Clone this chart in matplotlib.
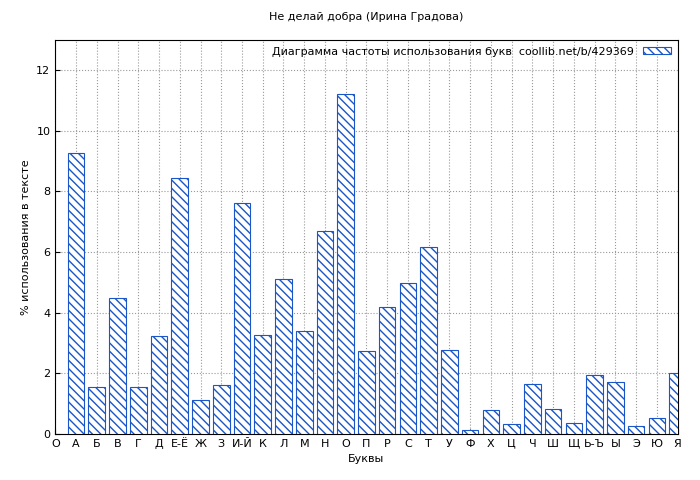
import matplotlib.pyplot as plt

letters = ["А", "Б", "В", "Г", "Д", "Е-Ё", "Ж", "З", "И-Й", "К", "Л", "М", "Н", "О", "П",
           "Р", "С", "Т", "У", "Ф", "Х", "Ц", "Ч", "Ш", "Щ", "Ь-Ъ", "Ы", "Э", "Ю", "Я"]
freq = [9.28, 1.55, 4.47, 1.55, 3.22, 8.45, 1.12, 1.61, 7.63, 3.26, 5.10, 3.39, 6.71, 11.22, 2.73,
        4.18, 4.97, 6.15, 2.76, 0.13, 0.79, 0.33, 1.64, 0.82, 0.36, 1.94, 1.71, 0.26, 0.53, 2.00]
tick_labels = ["О"] + letters

plt.rcParams['font.family'] = ['DejaVu Sans']
plt.rcParams['hatch.color'] = '#1a56c8'
fig = plt.figure(figsize=(7, 4.8), dpi=100)
ax = fig.add_axes([0.079, 0.096, 0.889, 0.821])
pos = list(range(1, len(freq) + 1))
ax.bar(pos, freq, width=0.8, facecolor='white', edgecolor='#1a56c8', hatch='\\\\\\\\',
       linewidth=0.8, label='Диаграмма частоты использования букв  coollib.net/b/429369', zorder=3)
ax.set_xlim(0, 30)
ax.set_ylim(0, 13)
ax.set_xticks(range(0, 31))
ax.set_xticklabels(tick_labels, fontsize=8)
ax.set_yticks(range(0, 13, 2))
ax.tick_params(labelsize=8, direction='in')
ax.grid(True, color='#999999', linestyle=':', linewidth=0.8, zorder=0)
ax.set_xlabel('Буквы', fontsize=8)
ax.set_ylabel('% использования в тексте', fontsize=8)
ax.set_title('Не делай добра (Ирина Градова)', fontsize=8, pad=14)
leg = ax.legend(loc='upper right', fontsize=8, frameon=False, markerfirst=False,
                handlelength=2.5, handleheight=0.6, borderaxespad=0.2)
plt.savefig('out.png', dpi=100)
